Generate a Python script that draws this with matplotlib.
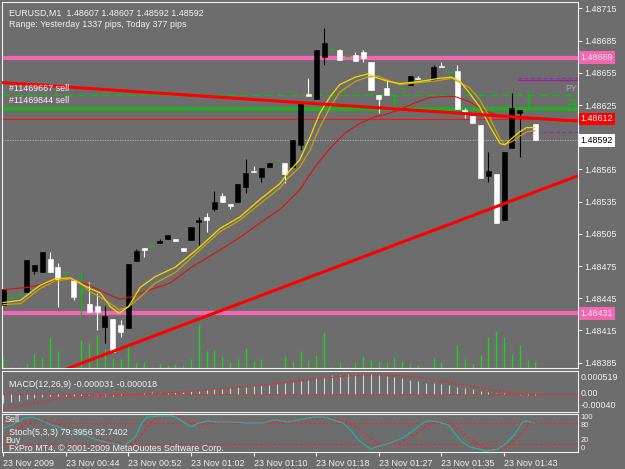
import matplotlib
matplotlib.use("Agg")
import matplotlib.pyplot as plt
from matplotlib.patches import Rectangle
import matplotlib.transforms as mtrans

plt.rcParams['font.family'] = ['Liberation Sans', 'DejaVu Sans']

# ---------------- data ----------------
symbol_line = "EURUSD,M1  1.48607 1.48607 1.48592 1.48592"
range_line = "Range: Yesterday 1337 pips, Today 377 pips"
macd_title = "MACD(12,26,9) -0.000031 -0.000018"
stoch_title = "Stoch(5,3,3) 79.3956 82.7402"
copyright_line = "FxPro MT4, \u00a9 2001-2009 MetaQuotes Software Corp."

time_labels = ["23 Nov 2009", "23 Nov 00:44", "23 Nov 00:52", "23 Nov 01:02",
               "23 Nov 01:10", "23 Nov 01:18", "23 Nov 01:27", "23 Nov 01:35",
               "23 Nov 01:43"]
time_label_bars = [0, 8, 16, 24, 32, 40, 48, 56, 64]

opens = [1.48439, 1.48446, 1.48449, 1.48451, 1.48470, 1.48469, 1.48482, 1.48474, 1.48469, 1.48462,
         1.48453, 1.48440, 1.48438, 1.48418, 1.48426, 1.48420, 1.48417, 1.48480, 1.48492, 1.48494,
         1.48496, 1.48500, 1.48500, 1.48492, 1.48499, 1.48516, 1.48521, 1.48528, 1.48540, 1.48533,
         1.48535, 1.48549, 1.48564, 1.48558, 1.48567, 1.48574, 1.48571, 1.48567, 1.48588, 1.48635,
         1.48631, 1.48670, 1.48677, 1.48676, 1.48671, 1.48672, 1.48674, 1.48665, 1.48634, 1.48641,
         1.48630, 1.48641, 1.48644, 1.48650, 1.48646, 1.48648, 1.48661, 1.48656, 1.48657, 1.48620,
         1.48615, 1.48606, 1.48559, 1.48561, 1.48518, 1.48585, 1.48618, 1.48630, 1.48607]
highs = [1.48454, 1.48446, 1.48449, 1.48481, 1.48476, 1.48488, 1.48488, 1.48478, 1.48469, 1.48462,
         1.48469, 1.48460, 1.48450, 1.48438, 1.48426, 1.48425, 1.48477, 1.48491, 1.48492, 1.48494,
         1.48500, 1.48504, 1.48500, 1.48492, 1.48511, 1.48521, 1.48524, 1.48545, 1.48543, 1.48533,
         1.48551, 1.48575, 1.48568, 1.48566, 1.48571, 1.48574, 1.48571, 1.48592, 1.48628, 1.48650,
         1.48676, 1.48697, 1.48677, 1.48677, 1.48671, 1.48674, 1.48676, 1.48665, 1.48634, 1.48648,
         1.48635, 1.48641, 1.48652, 1.48652, 1.48646, 1.48662, 1.48665, 1.48656, 1.48662, 1.48622,
         1.48615, 1.48606, 1.48581, 1.48561, 1.48581, 1.48636, 1.48620, 1.48637, 1.48607]
lows = [1.48439, 1.48446, 1.48449, 1.48451, 1.48468, 1.48469, 1.48469, 1.48437, 1.48469, 1.48443,
        1.48429, 1.48432, 1.48415, 1.48403, 1.48395, 1.48409, 1.48417, 1.48480, 1.48483, 1.48494,
        1.48496, 1.48500, 1.48498, 1.48489, 1.48499, 1.48495, 1.48507, 1.48526, 1.48535, 1.48528,
        1.48535, 1.48543, 1.48563, 1.48553, 1.48567, 1.48574, 1.48552, 1.48567, 1.48583, 1.48633,
        1.48631, 1.48662, 1.48677, 1.48667, 1.48671, 1.48666, 1.48665, 1.48639, 1.48618, 1.48634,
        1.48624, 1.48641, 1.48644, 1.48649, 1.48646, 1.48648, 1.48660, 1.48656, 1.48621, 1.48613,
        1.48608, 1.48557, 1.48553, 1.48515, 1.48518, 1.48585, 1.48577, 1.48624, 1.48592]
closes = [1.48454, 1.48446, 1.48449, 1.48481, 1.48476, 1.48488, 1.48469, 1.48463, 1.48469, 1.48446,
          1.48453, 1.48432, 1.48432, 1.48428, 1.48395, 1.48414, 1.48477, 1.48489, 1.48490, 1.48494,
          1.48498, 1.48504, 1.48498, 1.48489, 1.48511, 1.48518, 1.48518, 1.48535, 1.48535, 1.48531,
          1.48551, 1.48562, 1.48563, 1.48566, 1.48571, 1.48574, 1.48561, 1.48592, 1.48628, 1.48633,
          1.48676, 1.48683, 1.48677, 1.48667, 1.48671, 1.48666, 1.48669, 1.48639, 1.48631, 1.48634,
          1.48630, 1.48641, 1.48652, 1.48649, 1.48646, 1.48660, 1.48660, 1.48656, 1.48621, 1.48618,
          1.48608, 1.48557, 1.48564, 1.48515, 1.48581, 1.48622, 1.48620, 1.48630, 1.48592]
volumes = [11, 1, 1, 4, 14, 10, 30, 17, 2, 1,
           28, 25, 33, 19, 10, 9, 23, 6, 6, 1,
           4, 3, 4, 3, 9, 44, 17, 18, 11, 6,
           9, 20, 7, 9, 1, 1, 12, 7, 17, 8,
           13, 36, 1, 6, 1, 6, 12, 8, 7, 6,
           11, 7, 4, 3, 1, 10, 6, 1, 23, 9,
           4, 13, 31, 37, 31, 14, 23, 8, 6]

# moving averages
ma_idx = [0, 2.2, 4.7, 6.6, 8.6, 9.8, 11.1, 12.4, 13.7, 14.8, 16.0, 17.5, 19.4, 22.0, 24.7,
          27.7, 30.3, 32.8, 35.4, 36.4, 37.9, 39.2, 40.5, 41.8, 43.0, 45.0, 46.6, 47.9, 49.2,
          50.7, 53.3, 55.8, 57.3, 58.4, 59.6, 60.9, 62.2, 63.5, 64.1, 65.0, 66.0, 66.9, 67.9]
ma_fast = [1.48441, 1.48443, 1.48457, 1.48463, 1.48464, 1.48459, 1.48454, 1.48450, 1.48437, 1.48431,
           1.48437, 1.48455, 1.48465, 1.48474, 1.48490, 1.48510, 1.48521, 1.48537, 1.48552, 1.48562,
           1.48574, 1.48595, 1.48618, 1.48633, 1.48644, 1.48651, 1.48654, 1.48650, 1.48647, 1.48645,
           1.48647, 1.48650, 1.48651, 1.48647, 1.48636, 1.48623, 1.48605, 1.48589, 1.48588, 1.48594,
           1.48600, 1.48604, 1.48604]
ma_slow = [1.48439, 1.48440, 1.48454, 1.48461, 1.48463, 1.48460, 1.48451, 1.48446, 1.48440, 1.48434,
           1.48437, 1.48446, 1.48459, 1.48469, 1.48487, 1.48507, 1.48518, 1.48533, 1.48548, 1.48557,
           1.48567, 1.48583, 1.48605, 1.48623, 1.48637, 1.48647, 1.48651, 1.48652, 1.48648, 1.48644,
           1.48646, 1.48648, 1.48650, 1.48646, 1.48641, 1.48630, 1.48613, 1.48593, 1.48588, 1.48591,
           1.48596, 1.48600, 1.48601]
red_idx = [0, 3.1, 6.0, 8.1, 8.9, 11.1, 12.4, 14.9, 16.2, 18.8, 21.3, 24.1, 27.7, 30.3, 32.8, 35.4,
           37.9, 39.8, 41.8, 43.7, 45.6, 47.5, 49.2, 50.7, 52.6, 54.5, 56.4, 57.7, 59.6, 61.4, 63.5, 67.9]
ma_red = [1.48453, 1.48455, 1.48460, 1.48463, 1.48462, 1.48457, 1.48452, 1.48444, 1.48446, 1.48453,
          1.48459, 1.48474, 1.48490, 1.48502, 1.48515, 1.48528, 1.48546, 1.48567, 1.48585, 1.48599,
          1.48608, 1.48614, 1.48617, 1.48621, 1.48627, 1.48632, 1.48633, 1.48633, 1.48628, 1.48620,
          1.48615, 1.48613]

# levels / objects
price_ticks = [1.48715, 1.48685, 1.48655, 1.48625, 1.48565, 1.48535, 1.48505, 1.48475,
               1.48445, 1.48415, 1.48385]
pink_levels = [1.48669, 1.48431]
order_levels = [1.48634, 1.48621]
order_names = ["#11469667 sell", "#11469844 sell"]
stop_level = 1.48612
bid_level = 1.48592
trend_down_x = [-0.4, 73.4]
trend_down_y = [1.48646, 1.48610]
trend_up_x = [6.6, 73.4]
trend_up_y = [1.48375, 1.48559]
purple_start = 65.8
purple_dashed = [1.48650, 1.48600]
purple_solid = [1.48648]

# MACD
macd_hist = [-0.000197, -0.000181, -0.000151, -0.000120, -0.000090, -0.000075, -0.000045, -0.000045,
             -0.000034, -0.000034, -0.000034, -0.000045, -0.000045, -0.000045, -0.000034, -0.000023,
             -0.000011, 0.000011, 0.000023, 0.000034, 0.000038, 0.000052, 0.000052, 0.000052,
             0.000061, 0.000075, 0.000090, 0.000106, 0.000120, 0.000136, 0.000151, 0.000165,
             0.000181, 0.000197, 0.000210, 0.000226, 0.000242, 0.000264, 0.000287, 0.000316,
             0.000355, 0.000391, 0.000423, 0.000436, 0.000452, 0.000459, 0.000452, 0.000452,
             0.000429, 0.000414, 0.000391, 0.000355, 0.000316, 0.000287, 0.000255, 0.000242,
             0.000226, 0.000197, 0.000165, 0.000129, 0.000106, 0.000075, 0.000052, 0.000029,
             0.000016, -0.000011, -0.000020, -0.000027, -0.000031]
macd_sig_idx = [-0.4, 2.2, 4.7, 7.3, 9.8, 12.3, 14.9, 17.4, 20.0, 22.5, 25.1, 27.6, 30.2, 32.7,
                35.2, 37.8, 40.3, 42.9, 45.4, 48.0, 50.5, 53.1, 55.6, 58.1, 60.7, 63.2, 65.8, 67.9]
macd_signal = [-0.000362, -0.000271, -0.000174, -0.000097, -0.000061, -0.000038, -0.000029,
               -0.000016, 0.000016, 0.000045, 0.000075, 0.000113, 0.000151, 0.000197, 0.000242,
               0.000294, 0.000346, 0.000391, 0.000423, 0.000429, 0.000423, 0.000377, 0.000301,
               0.000226, 0.000151, 0.000075, 0.000016, -0.000018]

# Stochastic
stoch_main_idx = [0.1, 1.1, 2.7, 3.7, 4.7, 6.2, 8.3, 9.8, 11.3, 12.9, 14.4, 15.4, 16.9, 17.7, 18.4,
                  20.0, 21.5, 22.0, 23.0, 24.0, 25.0, 26.1, 27.1, 29.1, 31.2, 33.2, 34.7, 36.3, 38.3,
                  39.8, 40.8, 41.9, 43.4, 44.4, 45.4, 46.4, 47.0, 48.0, 49.5, 51.0, 52.5, 53.6, 54.3,
                  55.6, 56.9, 57.6, 58.6, 59.7, 60.7, 61.7, 63.2, 64.3, 65.3, 66.3, 66.8, 67.9]
stoch_main = [66, 74, 94, 97, 89, 74, 60, 51, 37, 26, 20, 14, 40, 80, 97,
              100, 100, 97, 83, 69, 80, 86, 83, 83, 80, 80, 89, 83, 91,
              97, 97, 91, 80, 60, 31, 14, 6, 14, 23, 37, 60, 80, 86,
              83, 74, 54, 26, 11, 6, 0, 5, 23, 46, 80, 86, 79.3956]
stoch_sig_idx = [0.1, 1.7, 3.2, 4.7, 6.7, 8.8, 10.8, 12.9, 14.9, 16.4, 17.4, 18.4, 19.5, 21.0,
                 22.5, 23.5, 25.1, 26.1, 28.1, 32.2, 35.2, 38.3, 40.3, 42.4, 43.9, 45.4, 47.0,
                 48.0, 49.5, 51.0, 52.5, 54.1, 55.1, 56.6, 58.1, 59.7, 61.2, 62.7, 64.3, 65.8,
                 66.8, 67.9]
stoch_signal = [37, 60, 83, 91, 80, 60, 43, 31, 23, 20, 37, 69, 94, 100,
                100, 89, 74, 77, 83, 80, 83, 89, 94, 91, 83, 63, 37,
                20, 20, 26, 46, 74, 83, 83, 63, 37, 11, 6, 11, 40,
                69, 82.7402]
stoch_levels = [80, 20]

# ---------------- drawing ----------------
BG = '#6d6d6d'
FG = '#f2f2f2'
PINK = '#f466b4'
GREEN = '#00c800'
W, H = 625.0, 469.0
FS = 6.4


def px_rect(x0, y0, x1, y1):
    return [x0 / W, 1 - y1 / H, (x1 - x0) / W, (y1 - y0) / H]


fig = plt.figure(figsize=(6.25, 4.69), dpi=100, facecolor=BG)
ax = fig.add_axes(px_rect(2, 2, 578, 368))
axm = fig.add_axes(px_rect(2, 371, 578, 412))
axs = fig.add_axes(px_rect(2, 414, 578, 452))

XMIN, XMAX = -0.15, 73.45
for a in (ax, axm, axs):
    a.set_facecolor(BG)
    a.set_xlim(XMIN, XMAX)
    for s in a.spines.values():
        s.set_color(FG)
        s.set_linewidth(0.8)
    a.tick_params(axis='x', which='both', bottom=False, labelbottom=False)

# volume on a twin axis (drawn underneath the price axis)
axv = ax.twinx()
axv.set_ylim(0, 366)
axv.set_xlim(XMIN, XMAX)
axv.vlines(range(len(volumes)), 0, volumes, color='#1ed21e', lw=1.0)
axv.set_yticks([])
for s in axv.spines.values():
    s.set_visible(False)
ax.set_zorder(2)
axv.set_zorder(1)
ax.patch.set_visible(False)
axv.patch.set_visible(True)
axv.set_facecolor(BG)

ax.set_ylim(1.48380, 1.48721)
ax.yaxis.tick_right()
ax.set_yticks(price_ticks)
ax.set_yticklabels([f"{p:.5f}" for p in price_ticks])
ax.tick_params(axis='y', colors=FG, labelsize=FS, length=3, width=0.8, pad=1.5)

# horizontal levels
for lv in pink_levels:
    ax.axhline(lv, color=PINK, lw=3.0, zorder=2)
ax.axhline(order_levels[0], color=GREEN, lw=0.9, dashes=(6, 4), zorder=2)
ax.axhline(order_levels[1], color='#22b022', lw=2.6, zorder=2)
ax.axhline(stop_level, color='#ff1010', lw=0.8, zorder=2)
ax.axhline(bid_level, color='#b4b4b4', lw=0.6, dashes=(1.5, 1.5), zorder=2)
for lv in purple_dashed:
    ax.plot([purple_start, XMAX], [lv, lv], color='#a020c0', lw=0.9, dashes=(3, 2), zorder=2)
for lv in purple_solid:
    ax.plot([purple_start, XMAX], [lv, lv], color='#9a209a', lw=0.9, zorder=2)

# candles
BODY = 0.64
for i, (o, h, l, c) in enumerate(zip(opens, highs, lows, closes)):
    if c > o:
        col = 'black'
    elif c < o:
        col = 'white'
    else:
        col = GREEN
    ax.vlines(i, l, h, color=col, lw=0.8, zorder=4)
    if c != o:
        ax.add_patch(Rectangle((i - BODY / 2, min(o, c)), BODY, abs(c - o),
                               facecolor=col, edgecolor=col, lw=0.4, zorder=4))
    else:
        ax.hlines(o, i - BODY / 2, i + BODY / 2, color=col, lw=1.0, zorder=4)

# moving averages
ax.plot(red_idx, ma_red, color='#e01010', lw=0.8, zorder=5)
ax.plot(ma_idx, ma_slow, color='#c8a010', lw=0.9, zorder=5)
ax.plot(ma_idx, ma_fast, color='#f0dc00', lw=0.9, zorder=5)

# trend lines
ax.plot(trend_down_x, trend_down_y, color='#ff0000', lw=2.2, zorder=6, solid_capstyle='butt')
ax.plot(trend_up_x, trend_up_y, color='#ff0000', lw=2.2, zorder=6, solid_capstyle='butt')

# texts in the main window
ax.text(7 / 576, 1 - 7 / 366, symbol_line, transform=ax.transAxes, color=FG, fontsize=FS,
        va='top', ha='left', zorder=8)
ax.text(7 / 576, 1 - 18 / 366, range_line, transform=ax.transAxes, color=FG, fontsize=FS,
        va='top', ha='left', zorder=8)
blend = mtrans.blended_transform_factory(ax.transAxes, ax.transData)
ax.text(7 / 576, order_levels[0] + 0.00006, order_names[0], transform=blend, color=FG,
        fontsize=FS, va='center', ha='left', zorder=8)
ax.text(7 / 576, order_levels[1] + 0.00008, order_names[1], transform=blend, color=FG,
        fontsize=FS, va='center', ha='left', zorder=8)
ax.text(0.998, order_levels[0] + 0.00006, "PY", transform=blend, color='#a8a8a8',
        fontsize=FS, va='center', ha='right', zorder=8)
ax.text(0.998, order_levels[1] + 0.00005, "74", transform=blend, color=GREEN,
        fontsize=FS + 0.6, va='center', ha='right', zorder=8)

# price boxes on the axis
boxes = [(pink_levels[0], PINK, '#e8e8e8'), (stop_level, '#ff0000', 'white'),
         (bid_level, 'white', 'black'), (pink_levels[1], PINK, '#e8e8e8')]
for lv, fc, tc in boxes:
    ax.text(1.0045, lv, f"{lv:.5f}", transform=blend, color=tc, fontsize=FS,
            va='center', ha='left', zorder=9, clip_on=False,
            bbox=dict(facecolor=fc, edgecolor='none', pad=1.4))

# MACD window
axm.set_ylim(-0.000407, 0.00052)
axm.vlines(range(len(macd_hist)), 0, macd_hist, color='#d2d2d2', lw=0.8)
axm.plot(macd_sig_idx, macd_signal, color='#ff2020', lw=0.9, dashes=(1.5, 1.5))
axm.axhline(0, color='#ff2020', lw=0.8, dashes=(1.5, 1.5))
axm.set_yticks([])
axm.text(7 / 576, 0.66, macd_title, transform=axm.transAxes, color=FG, fontsize=FS,
         va='center', ha='left')
for frac, lab in [(0.85, "0.000519"), (0.44, "0.00"), (0.15, "-0.00040")]:
    axm.text(1.005, frac, lab, transform=axm.transAxes, color=FG, fontsize=FS,
             va='center', ha='left', clip_on=False)

# Stochastic window
axs.set_ylim(-2.9, 105.7)
for lv in stoch_levels:
    axs.axhline(lv, color='#ff2020', lw=0.8, dashes=(2, 2))
axs.plot(stoch_sig_idx, stoch_signal, color='#ff2020', lw=0.9, dashes=(2, 2))
axs.plot(stoch_main_idx, stoch_main, color='#20b2aa', lw=0.9)
axs.set_yticks([])
axs.text(3 / 576, 0.97, "Sell", transform=axs.transAxes, color=FG, fontsize=FS,
         va='top', ha='left')
axs.text(7 / 576, 0.52, stoch_title, transform=axs.transAxes, color=FG, fontsize=FS,
         va='center', ha='left')
axs.text(3 / 576, 0.30, "Buy", transform=axs.transAxes, color=FG, fontsize=FS,
         va='center', ha='left')
axs.text(7 / 576, 0.10, copyright_line, transform=axs.transAxes, color=FG, fontsize=FS,
         va='center', ha='left')
for frac, lab in [(0.90, "100"), (0.70, "80"), (0.30, "20"), (0.10, "0")]:
    axs.text(1.005, frac, lab, transform=axs.transAxes, color=FG, fontsize=5.4,
             va='center', ha='left', clip_on=False)

# time axis
axs.set_xticks(time_label_bars)
axs.set_xticklabels(time_labels, ha='left')
axs.tick_params(axis='x', bottom=True, labelbottom=True, colors=FG, labelsize=FS,
                length=3, width=0.8, pad=2)

fig.savefig("out.png", dpi=100, facecolor=BG)
